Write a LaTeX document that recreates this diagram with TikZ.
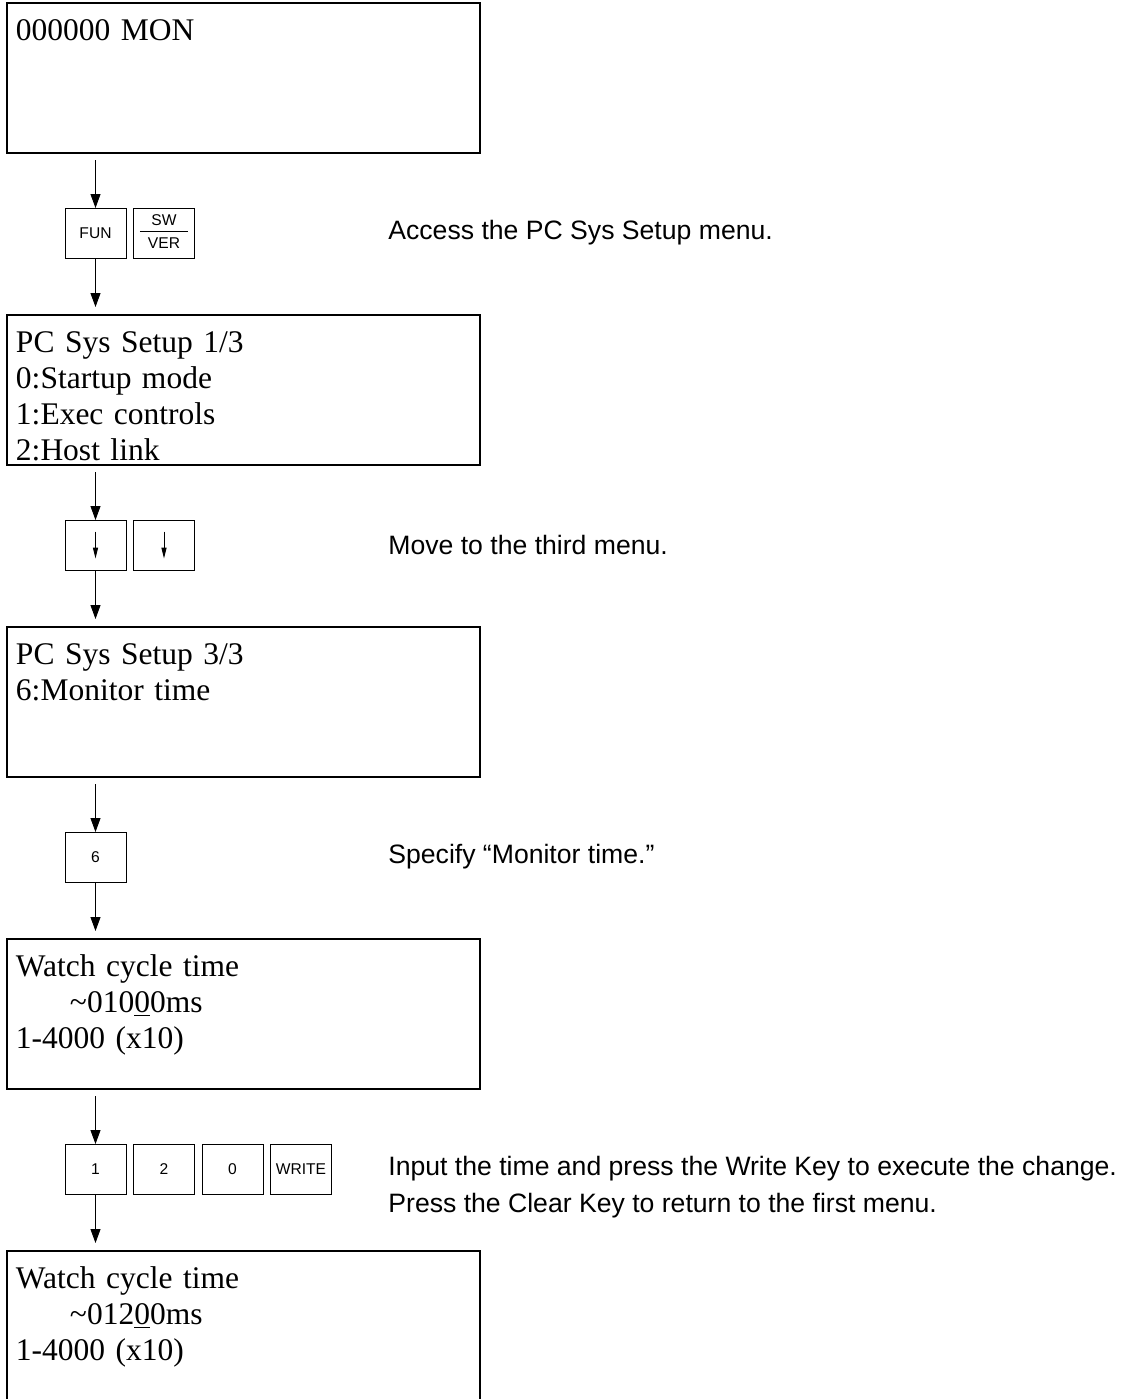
\documentclass[tikz,border=0pt]{standalone}
\usepackage{fontspec}
\setmainfont{Liberation Serif}
\setsansfont{Liberation Sans}
\usetikzlibrary{arrows.meta,positioning}

\begin{document}
\begin{tikzpicture}[
  node distance=27.5pt and 3.75pt,
  screen/.style={draw,line width=0.6pt,outer sep=0pt,inner xsep=4.5pt,inner ysep=0pt,
    text width=227.5pt,align=left,text height=18.5pt,text depth=56.5pt,
    font=\fontsize{15.75}{18}\selectfont},
  key/.style={draw,line width=0.5pt,outer sep=0pt,inner sep=0pt,
    minimum width=30.5pt,minimum height=25pt,font=\sffamily\fontsize{7.8}{9.4}\selectfont},
  note/.style={anchor=west,align=left,inner sep=0pt,font=\sffamily\fontsize{13.3}{18.5}\selectfont},
  arr/.style={-{Triangle[length=7pt,width=5pt]},line width=0.5pt},
  tinyarr/.style={-{Triangle[length=5.5pt,width=2.6pt]},line width=0.5pt}
]
\useasboundingbox (0,0) rectangle (562pt,-699.5pt);
\clip (0,0) rectangle (562pt,-699.5pt);

\node[screen,anchor=north west] (s1) at (3.5pt,-1.5pt) {000000 MON};
\node[key,below=27.5pt of s1.south west,anchor=north west,xshift=29pt] (k11) {FUN};
\node[key,right=of k11] (k12) {\begin{tabular}{@{\hspace{4pt}}c@{\hspace{4pt}}}SW\\\hline\rule{0pt}{8.5pt}VER\end{tabular}};
\node[note,right=131pt of k11] (n1) {Access the PC Sys Setup menu.};
\node[screen,below=28.5pt of k11.south west,anchor=north west,xshift=-29pt] (s2)
  {PC Sys Setup 1/3\\0:Startup mode\\1:Exec controls\\2:Host link};
\draw[arr,shorten <=3.5pt] (k11 |- s1.south) -- (k11);
\draw[arr,shorten >=4pt] (k11) -- (k11 |- s2.north);

\node[key,below=27.5pt of s2.south west,anchor=north west,xshift=29pt] (k21) {};
\node[key,right=of k21] (k22) {};
\draw[tinyarr] ([yshift=6.75pt]k21.center) -- ([yshift=-6.75pt]k21.center);
\draw[tinyarr] ([yshift=6.75pt]k22.center) -- ([yshift=-6.75pt]k22.center);
\node[note,right=131pt of k21] (n2) {Move to the third menu.};
\node[screen,below=28.5pt of k21.south west,anchor=north west,xshift=-29pt] (s3)
  {PC Sys Setup 3/3\\6:Monitor time};
\draw[arr,shorten <=3.5pt] (k21 |- s2.south) -- (k21);
\draw[arr,shorten >=4pt] (k21) -- (k21 |- s3.north);

\node[key,below=27.5pt of s3.south west,anchor=north west,xshift=29pt] (k31) {6};
\node[note,right=131pt of k31] (n3) {Specify “Monitor time.”};
\node[screen,below=28.5pt of k31.south west,anchor=north west,xshift=-29pt] (s4)
  {Watch cycle time\\\hspace*{27pt}\textasciitilde010\underline{0}0ms\\1-4000 (x10)};
\draw[arr,shorten <=3.5pt] (k31 |- s3.south) -- (k31);
\draw[arr,shorten >=4pt] (k31) -- (k31 |- s4.north);

\node[key,below=27.5pt of s4.south west,anchor=north west,xshift=29pt] (k41) {1};
\node[key,right=of k41] (k42) {2};
\node[key,right=of k42] (k43) {0};
\node[key,right=of k43] (k44) {WRITE};
\node[note,right=131pt of k41,yshift=-9.25pt] (n4)
  {Input the time and press the Write Key to execute the change.\\Press the Clear Key to return to the first menu.};
\node[screen,below=28.5pt of k41.south west,anchor=north west,xshift=-29pt] (s5)
  {Watch cycle time\\\hspace*{27pt}\textasciitilde012\underline{0}0ms\\1-4000 (x10)};
\draw[arr,shorten <=3.5pt] (k41 |- s4.south) -- (k41);
\draw[arr,shorten >=4pt] (k41) -- (k41 |- s5.north);
\end{tikzpicture}
\end{document}
